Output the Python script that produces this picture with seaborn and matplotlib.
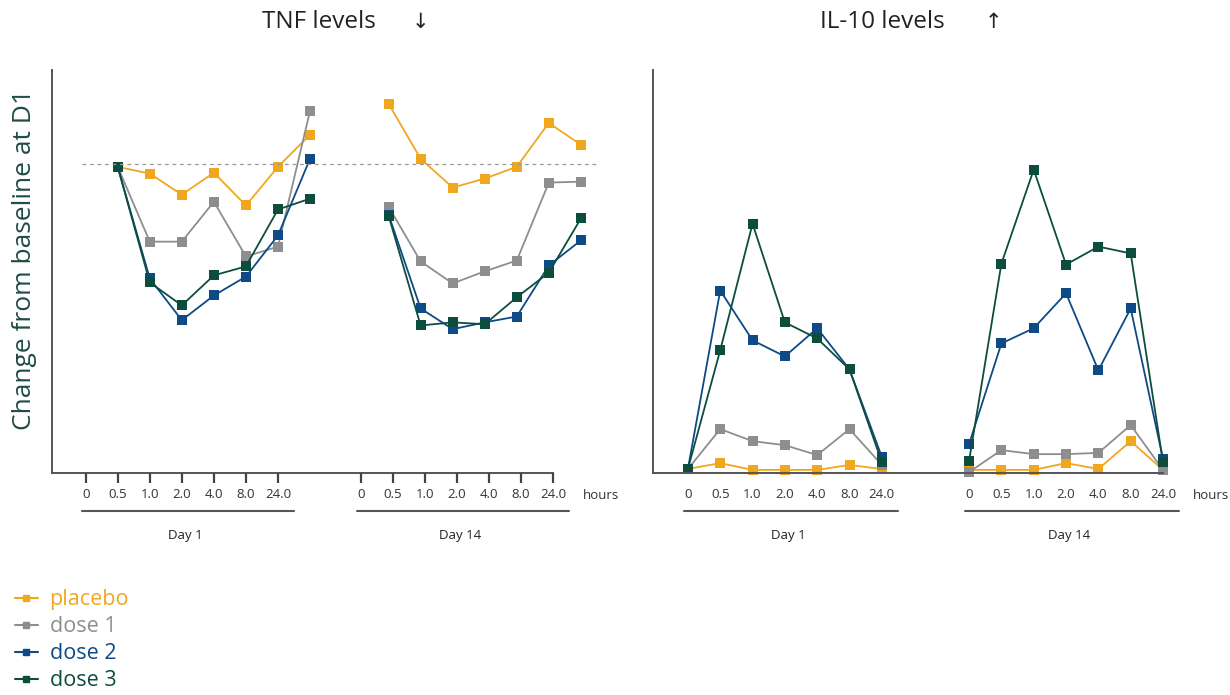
import matplotlib
matplotlib.use("Agg")
import matplotlib.pyplot as plt
import seaborn as sns
import pandas as pd

# data (relative units, 100 = baseline at D1)
groups = ["placebo", "dose 1", "dose 2", "dose 3"]
colors = ["#F0A71E", "#8E8E90", "#0E4A86", "#0C4D3E"]
hours = ["0", "0.5", "1.0", "2.0", "4.0", "8.0", "24.0"]

tnf_d1_placebo = [99, 96.8, 90, 97.1, 86.5, 99, 109.4]
tnf_d1_dose1 = [99, 74.8, 74.8, 87.7, 70, 73.2, 117.1]
tnf_d1_dose2 = [99, 62.9, 49.4, 57.4, 63.5, 76.8, 101.6]
tnf_d1_dose3 = [99, 61.6, 54.2, 63.9, 66.8, 85.2, 88.7]

tnf_d14_placebo = [119.4, 101.6, 92.3, 95.2, 99, 113.2, 106.1]
tnf_d14_dose1 = [86.1, 68.4, 61.3, 65.2, 68.7, 93.9, 94.2]
tnf_d14_dose2 = [83.5, 53.2, 46.5, 48.7, 50.6, 67.1, 75.2]
tnf_d14_dose3 = [83.2, 47.7, 48.7, 48.1, 56.8, 64.8, 82.3]

il10_d1_placebo = [1.3, 3.2, 1, 1, 1, 2.6, 1.3]
il10_d1_dose1 = [1.3, 14.2, 10.3, 9, 5.8, 14.2, 2.6]
il10_d1_dose2 = [1.3, 59, 42.9, 37.7, 46.8, 33.5, 5.2]
il10_d1_dose3 = [1.3, 39.7, 80.6, 48.7, 43.5, 33.5, 3.5]

il10_d14_placebo = [1, 1, 1, 3.2, 1.3, 10.3, 1]
il10_d14_dose1 = [0.3, 7.4, 6.1, 6.1, 6.5, 15.5, 1]
il10_d14_dose2 = [9.4, 41.9, 46.8, 58.1, 33.2, 53.2, 4.5]
il10_d14_dose3 = [3.9, 67.7, 98.1, 67.4, 73.2, 71, 3.5]

# x positions (tick units)
tick_d1 = [0, 1, 2, 3, 4, 5, 6]
tick_d14_tnf = [8.58, 9.58, 10.58, 11.58, 12.58, 13.58, 14.58]
pts_d1_tnf = [1, 2, 3, 4, 5, 6, 7]          # TNF points sit one step right of the ticks
pts_d14_tnf = [9.45, 10.45, 11.45, 12.45, 13.45, 14.45, 15.45]
tick_d14_il = [8.7, 9.7, 10.7, 11.7, 12.7, 13.7, 14.7]


def build(x1, x14, d1, d14):
    rows = []
    for g, a, b in zip(groups, d1, d14):
        for i in range(7):
            rows.append({"group": g, "day": "Day 1", "x": x1[i], "y": a[i]})
            rows.append({"group": g, "day": "Day 14", "x": x14[i], "y": b[i]})
    return pd.DataFrame(rows)


tnf = build(pts_d1_tnf, pts_d14_tnf,
            [tnf_d1_placebo, tnf_d1_dose1, tnf_d1_dose2, tnf_d1_dose3],
            [tnf_d14_placebo, tnf_d14_dose1, tnf_d14_dose2, tnf_d14_dose3])
il10 = build(tick_d1, tick_d14_il,
             [il10_d1_placebo, il10_d1_dose1, il10_d1_dose2, il10_d1_dose3],
             [il10_d14_placebo, il10_d14_dose1, il10_d14_dose2, il10_d14_dose3])

sns.set_style("white")
plt.rcParams["font.family"] = ["Open Sans", "DejaVu Sans"]

fig = plt.figure(figsize=(12.3, 6.95), dpi=100)
ax1 = fig.add_axes([52 / 1230, 1 - 473 / 695, (553 - 52) / 1230, 403 / 695])
ax2 = fig.add_axes([653 / 1230, 1 - 473 / 695, (1163 - 653) / 1230, 403 / 695])

pal = dict(zip(groups, colors))
for ax, df in [(ax1, tnf), (ax2, il10)]:
    for g in groups:
        for d in ["Day 1", "Day 14"]:
            sub = df[(df.group == g) & (df.day == d)]
            sns.lineplot(data=sub, x="x", y="y", ax=ax, color=pal[g], lw=1.3,
                         marker="s", markersize=7, markeredgewidth=0,
                         sort=False, clip_on=False, legend=False)
    ax.set_ylim(0, 130.3)
    ax.set_yticks([])
    ax.set_xlabel("")
    ax.set_ylabel("")
    for s in ["top", "right"]:
        ax.spines[s].set_visible(False)
    for s in ["left", "bottom"]:
        ax.spines[s].set_color("#555555")
        ax.spines[s].set_linewidth(1.4)

# baseline
ax1.plot([-0.1, 16], [100, 100], ls=(0, (3, 3)), color="#999999", lw=0.9, clip_on=False)

ax1.set_xlim(-1.05, 14.58)
ax1.set_xticks(tick_d1 + tick_d14_tnf)
ax1.set_xticklabels(hours + hours, fontsize=9.5, color="#333333")
ax1.tick_params(axis="x", length=0, pad=11)
# short tick marks under the TNF axis
tr1 = ax1.get_xaxis_transform()
ax1.vlines(tick_d1 + tick_d14_tnf, -0.024, 0, transform=tr1, colors="#444444",
           lw=1.6, clip_on=False, zorder=5)

ax2.set_xlim(-1.08, 14.7)
ax2.set_xticks(tick_d1 + tick_d14_il)
ax2.set_xticklabels(hours + hours, fontsize=9.5, color="#333333")
ax2.tick_params(axis="x", length=0, pad=11)

for ax, t14, xmax in [(ax1, tick_d14_tnf, 14.58), (ax2, tick_d14_il, 14.7)]:
    trans = ax.get_xaxis_transform()
    for t, lab in [(tick_d1, "Day 1"), (t14, "Day 14")]:
        ax.plot([t[0] - 0.12, t[-1] + 0.5], [-0.095, -0.095], transform=trans,
                color="#555555", lw=1.5, clip_on=False)
        ax.text((t[0] + t[-1]) / 2 + 0.1, -0.155, lab, transform=trans, ha="center",
                va="center", fontsize=9.5, color="#222222")
    ax.text(xmax + 1.5, -0.055, "hours", transform=trans, ha="center", va="center",
            fontsize=9.5, color="#333333")

fig.text(262 / 1230, 1 - 22 / 695, "TNF levels", ha="left", va="center",
         fontsize=17.5, color="#222222")
fig.text(420 / 1230, 1 - 22 / 695, "\u2193", ha="center", va="center",
         fontsize=15, color="#222222")
fig.text(820 / 1230, 1 - 22 / 695, "IL-10 levels", ha="left", va="center",
         fontsize=17.5, color="#222222")
fig.text(993 / 1230, 1 - 22 / 695, "\u2191", ha="center", va="center",
         fontsize=15, color="#222222")
fig.text(25 / 1230, 1 - 260 / 695, "Change from baseline at D1", rotation=90,
         ha="center", va="center", fontsize=19, color="#1F4D45")

# legend
handles = [plt.Line2D([], [], color=c, marker="s", markersize=5, lw=1.5) for c in colors]
leg = fig.legend(handles, groups, loc="upper left", bbox_to_anchor=(0.0, 1 - 574 / 695),
                 frameon=False, fontsize=15.5, handlelength=1.05, handletextpad=0.55,
                 labelspacing=0.28, borderaxespad=0.3)
for txt, c in zip(leg.get_texts(), colors):
    txt.set_color(c)

fig.savefig("out.png", dpi=100)
